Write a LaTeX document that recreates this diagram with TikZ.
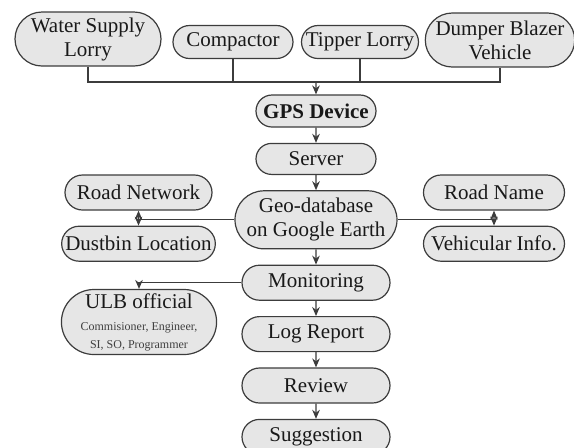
\documentclass[tikz,border=0pt]{standalone}
\usepackage{fontspec}
\setmainfont{Liberation Serif}
\usepackage{tikz}
\usetikzlibrary{arrows.meta,positioning,shapes.misc}
\definecolor{boxfill}{HTML}{E6E6E6}
\definecolor{edge}{HTML}{3C3C3C}

\begin{document}
\begin{tikzpicture}[x=0.5pt,y=-0.5pt,>={Stealth[length=4.5pt,width=3.8pt]},
  font=\fontsize{10.5}{12}\selectfont,node distance=7.6pt,draw=edge,line width=0.6pt,
  s/.style={rounded rectangle,draw=edge,fill=boxfill,align=center,text=black!90,
            inner xsep=1pt,inner ysep=0pt,minimum height=17.5pt},
  t/.style={s,minimum height=27pt}]
\useasboundingbox (0,0) rectangle (574,447);
\node[t,minimum width=75pt] (water) at (88,39) {Water Supply\\Lorry};
\node[s,minimum width=62pt,minimum height=16.5pt] (comp) at (233,42) {Compactor};
\node[s,minimum width=60.5pt,minimum height=16.5pt] (tipper) at (360,42) {Tipper Lorry};
\node[t,minimum width=71.5pt] (dumper) at (500,40) {Dumper Blazer\\Vehicle};
\node[s,minimum width=62pt,minimum height=16pt,font=\fontsize{10.5}{12}\selectfont\bfseries]
  (gps) at (316,111) {GPS Device};
\node[s,minimum width=62pt,minimum height=15.5pt,below=of gps] (server) {Server};
\node[t,minimum width=78.5pt,minimum height=29pt,below=of server] (geo) {Geo-database\\on Google Earth};
\node[s,minimum width=76pt,below=of geo] (mon) {Monitoring};
\node[s,minimum width=76pt,below=of mon] (log) {Log Report};
\node[s,minimum width=76pt,below=of log] (review) {Review};
\node[s,minimum width=76pt,below=of review] (sugg) {Suggestion};
\node[s,minimum width=75.5pt] (roadnet) at (138.5,192.5) {Road Network};
\node[s,minimum width=75.5pt,below=7.5pt of roadnet] (dustbin) {Dustbin Location};
\node[s,minimum width=72.5pt] (roadname) at (494,192.5) {Road Name};
\node[s,minimum width=72.5pt,below=7.5pt of roadname] (vehinfo) {Vehicular Info.};
\node[s,minimum width=75.5pt,minimum height=32.5pt] (ulb) at (139,322) {ULB official\\[-1pt]
  {\fontsize{6}{7}\selectfont\color{black!75}Commisioner, Engineer,}\\[-3pt]
  {\fontsize{6}{7}\selectfont\color{black!75}SI, SO, Programmer}};
% vehicles feed the GPS unit
\coordinate (bus) at (316,82);
\draw (water.south) |- (dumper.south |- bus) -- (dumper.south);
\draw (comp.south) -- (comp.south |- bus);
\draw (tipper.south) -- (tipper.south |- bus);
\draw[->] (bus) -- (gps);
\draw[->] (gps) -- (server); \draw[->] (server) -- (geo); \draw[->] (geo) -- (mon);
\draw[->] (mon) -- (log); \draw[->] (log) -- (review); \draw[->] (review) -- (sugg);
\draw (geo.west) -- (geo.west -| roadnet.south); \draw[<->] (roadnet) -- (dustbin);
\draw (geo.east) -- (geo.east -| roadname.south); \draw[<->] (roadname) -- (vehinfo);
\draw[->] (mon.west) -| (ulb.north);
\end{tikzpicture}
\end{document}
